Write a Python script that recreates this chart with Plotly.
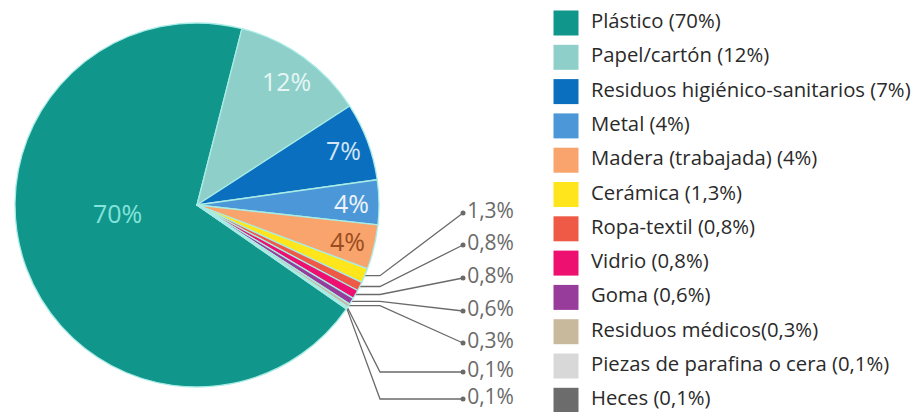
import math
import plotly.graph_objects as go

# ---- data ----
categories = ["Plástico", "Papel/cartón", "Residuos higiénico-sanitarios", "Metal",
              "Madera (trabajada)", "Cerámica", "Ropa-textil", "Vidrio", "Goma",
              "Residuos médicos", "Piezas de parafina o cera", "Heces"]
values = [70, 12, 7, 4, 4, 1.3, 0.8, 0.8, 0.6, 0.3, 0.1, 0.1]
legend_sep = [" ", " ", " ", " ", " ", " ", " ", " ", " ", "", " ", " "]

colors = ["#11968b", "#8ecfca", "#0b6fbf", "#4b97d7", "#f9a46c", "#ffe51c",
          "#ee5a46", "#ee1070", "#983c9c", "#c8b99c", "#d8d8d8", "#6c6c6c"]
inside_text_colors = ["#84e3da", "#e6f6f4", "#d3e5f6", "#eef4fb", "#9a4d1f"]


def fmt(v):
    return ("%g" % v).replace(".", ",") + "%"


W, H = 917, 412
CX, CY, R = 197, 205, 182
total = sum(values)
rotation = (14.3 - values[0] / total * 360) % 360  # Plástico/Papel boundary at ~14°

fig = go.Figure()
fig.add_trace(go.Pie(
    labels=categories, values=values, sort=False, direction="clockwise",
    rotation=rotation,
    marker=dict(colors=colors, line=dict(color="#a8ece6", width=1.3)),
    textinfo="none", hoverinfo="label+percent", showlegend=False,
    domain=dict(x=[(CX - R) / W, (CX + R) / W], y=[1 - (CY + R) / H, 1 - (CY - R) / H]),
))

# slice geometry (screen pixels, y down)
mids = []
cum = 0
for v in values:
    a0 = rotation + cum / total * 360
    mids.append(a0 + v / total * 180)
    cum += v


def pt(angle, r):
    a = math.radians(angle)
    return CX + r * math.sin(a), CY - r * math.cos(a)


annotations = []
# inside labels for the big slices
label_r = [0.44, 0.84, 0.86, 0.85, 0.85]
label_shift = [14.5, 0, 0, 0, 0]
for i in range(5):
    x, y = pt(mids[i] + label_shift[i], label_r[i] * R)
    annotations.append(dict(x=x, y=y, xref="x", yref="y", text=fmt(values[i]), showarrow=False,
                            xanchor="center", yanchor="middle",
                            font=dict(family="Open Sans", size=25, color=inside_text_colors[i])))

# callouts for the small slices
label_y = [213, 245, 278, 311, 343, 372, 399]
elbow_x, dot_x = 380, 463
for k, i in enumerate(range(5, 12)):
    sx, sy = pt(mids[i], R)
    ly = label_y[k]
    if k < 5:
        xs, ys = [sx, elbow_x, dot_x], [sy, sy, ly]
    else:
        xs, ys = [sx, elbow_x, dot_x], [sy, ly, ly]
    fig.add_trace(go.Scatter(x=xs, y=ys, mode="lines", line=dict(color="#6a6a6a", width=1.3),
                             showlegend=False, hoverinfo="skip"))
    fig.add_trace(go.Scatter(x=[dot_x], y=[ly], mode="markers+text", text=[fmt(values[i])],
                             textposition="middle right", showlegend=False, hoverinfo="skip",
                             marker=dict(size=5, color="#6a6a6a"),
                             textfont=dict(family="Open Sans", size=21, color="#6a6a6a")))

# legend
lg_x, lg_y0, lg_dy = 566, 23, 34.3
for i, (c, v) in enumerate(zip(categories, values)):
    y = lg_y0 + i * lg_dy
    fig.add_trace(go.Scatter(x=[lg_x], y=[y], mode="markers", showlegend=False, hoverinfo="skip",
                             marker=dict(symbol="square", size=25, color=colors[i], line=dict(width=0))))
    fig.add_trace(go.Scatter(x=[lg_x + 25], y=[y], mode="text",
                             text=[c + legend_sep[i] + "(" + fmt(v) + ")"],
                             textposition="middle right", showlegend=False, hoverinfo="skip",
                             textfont=dict(family="Open Sans", size=20.3, color="#2a2a2a")))

fig.update_layout(
    width=W, height=H, margin=dict(l=0, r=0, t=0, b=0),
    paper_bgcolor="white", plot_bgcolor="rgba(0,0,0,0)",
    xaxis=dict(range=[0, W], visible=False, fixedrange=True),
    yaxis=dict(range=[H, 0], visible=False, fixedrange=True),
    annotations=annotations,
)
fig.write_html("out.html", config={"displayModeBar": False},
               post_script="document.body.style.margin='0px';")
